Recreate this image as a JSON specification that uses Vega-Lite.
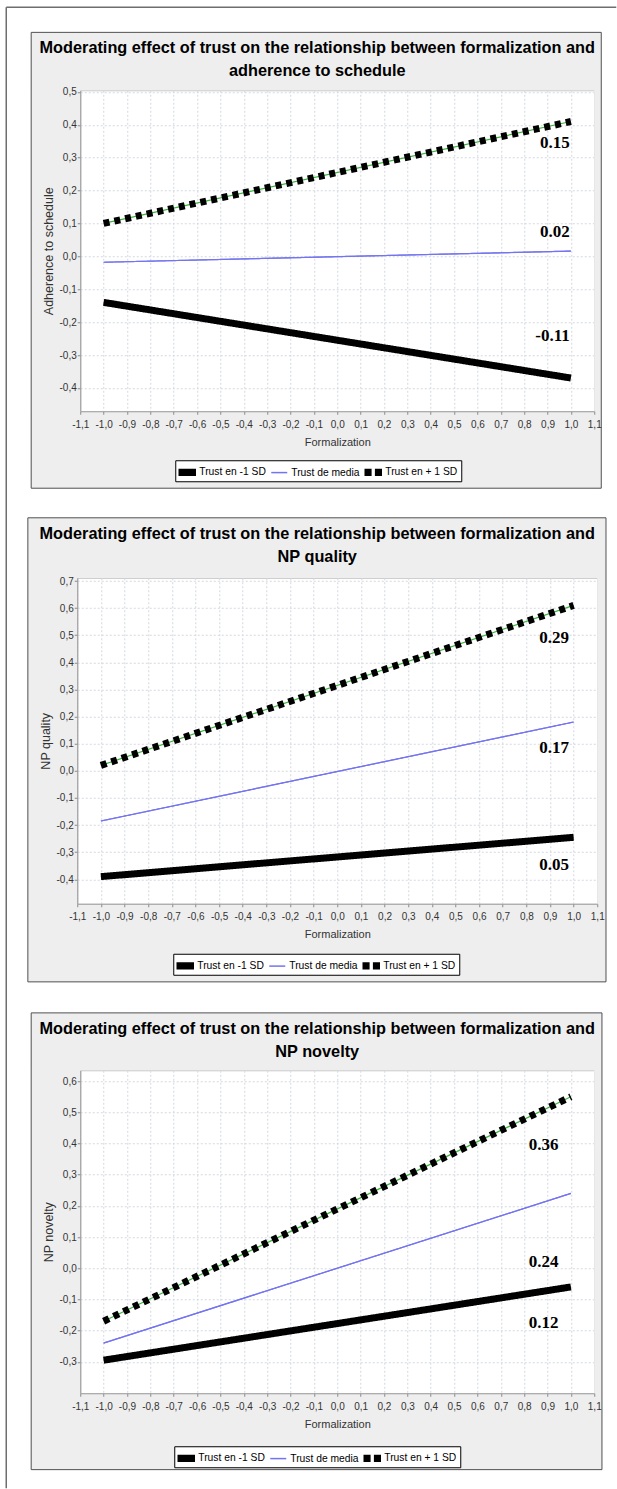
{
"$schema": "https://vega.github.io/schema/vega-lite/v6.json",
"background": "white",
"padding": {"left": 4.25, "top": 5.25, "right": 0, "bottom": 0},
"spacing": 166.5,
"center": true,
"bounds": "flush",
"datasets": {
"adh": [
{"formalization": -1, "value": -0.14, "series": "Trust en -1 SD"},
{"formalization": 1, "value": -0.37, "series": "Trust en -1 SD"},
{"formalization": -1, "value": -0.018, "series": "Trust de media"},
{"formalization": 1, "value": 0.016, "series": "Trust de media"},
{"formalization": -1, "value": 0.10, "series": "Trust en + 1 SD"},
{"formalization": 1, "value": 0.41, "series": "Trust en + 1 SD"}
],
"adhLab": [
{"formalization": 0.995, "value": 0.345, "label": "0.15"},
{"formalization": 0.995, "value": 0.073, "label": "0.02"},
{"formalization": 0.995, "value": -0.243, "label": "-0.11"}
],
"qual": [
{"formalization": -1, "value": -0.39, "series": "Trust en -1 SD"},
{"formalization": 1, "value": -0.245, "series": "Trust en -1 SD"},
{"formalization": -1, "value": -0.185, "series": "Trust de media"},
{"formalization": 1, "value": 0.18, "series": "Trust de media"},
{"formalization": -1, "value": 0.02, "series": "Trust en + 1 SD"},
{"formalization": 1, "value": 0.61, "series": "Trust en + 1 SD"}
],
"qualLab": [
{"formalization": 0.98, "value": 0.491, "label": "0.29"},
{"formalization": 0.98, "value": 0.085, "label": "0.17"},
{"formalization": 0.98, "value": -0.346, "label": "0.05"}
],
"nov": [
{"formalization": -1, "value": -0.295, "series": "Trust en -1 SD"},
{"formalization": 1, "value": -0.06, "series": "Trust en -1 SD"},
{"formalization": -1, "value": -0.24, "series": "Trust de media"},
{"formalization": 1, "value": 0.24, "series": "Trust de media"},
{"formalization": -1, "value": -0.17, "series": "Trust en + 1 SD"},
{"formalization": 1, "value": 0.55, "series": "Trust en + 1 SD"}
],
"novLab": [
{"formalization": 0.947, "value": 0.394, "label": "0.36"},
{"formalization": 0.947, "value": 0.019, "label": "0.24"},
{"formalization": 0.947, "value": -0.175, "label": "0.12"}
]
},
"vconcat": [
{
"width": 514, "height": 321,
"title": {"text": ["Moderating effect of trust on the relationship between formalization and", "adherence to schedule"], "offset": -72.75, "frame": "group", "dx": -20},
"resolve": {"axis": {"x": "independent", "y": "independent"}},
"layer": [
{"data": {"name": "adh"}, "mark": {"type": "line", "strokeWidth": 1.2},
"encoding": {
"x": {"field": "formalization", "type": "quantitative", "scale": {"domain": [-1.1, 1.1], "nice": false, "zero": false}, "axis": {"orient": "bottom", "grid": true, "labels": false, "ticks": false, "domain": false, "title": null, "zindex": 0, "values": [-1.1,-1,-0.9,-0.8,-0.7,-0.6,-0.5,-0.4,-0.3,-0.2,-0.1,0,0.1,0.2,0.3,0.4,0.5,0.6,0.7,0.8,0.9,1,1.1]}},
"y": {"field": "value", "type": "quantitative", "scale": {"domain": [-0.471, 0.505], "nice": false, "zero": false}, "axis": {"orient": "left", "grid": true, "labels": false, "ticks": false, "domain": false, "title": null, "zindex": 0, "values": [-0.4,-0.3,-0.2,-0.1,0,0.1,0.2,0.3,0.4,0.5]}},
"stroke": {"field": "series", "type": "nominal", "scale": {"domain": ["Trust de media", "Trust en -1 SD", "Trust en + 1 SD"], "range": ["#7474f0", "#ff4a4a", "#3cb43c"]}, "legend": null}
}},
{"data": {"name": "adh"}, "mark": {"type": "line"},
"encoding": {
"x": {"field": "formalization", "type": "quantitative", "axis": null},
"y": {"field": "value", "type": "quantitative", "axis": null},
"color": {"field": "series", "type": "nominal", "scale": {"domain": ["Trust en -1 SD", "Trust de media", "Trust en + 1 SD"], "range": ["#000000", "#7474f0", "#000000"]}, "legend": {"title": null, "orient": "none", "legendX": 95, "legendY": 370, "direction": "horizontal", "symbolType": {"expr": "datum.value === 'Trust de media' ? 'stroke' : datum.value === 'Trust en + 1 SD' ? 'M-1,-0.35H-0.3V0.35H-1Z M0.3,-0.35H1V0.35H0.3Z' : 'M-1,-0.35H1V0.35H-1Z'"}, "symbolFillColor": {"expr": "datum.value === 'Trust de media' ? 'transparent' : '#000000'"}}},
"strokeDash": {"condition": {"test": "datum.series === 'Trust en + 1 SD'", "value": [6, 5]}, "value": [1, 0]},
"strokeWidth": {"condition": {"test": "datum.series === 'Trust de media'", "value": 1.2}, "value": 7}
}},
{"data": {"values": [{}]}, "mark": {"type": "rect", "color": "#eeeeee"},
"encoding": {"x": {"datum": -1.31, "type": "quantitative", "axis": null, "scale": {"domain": [-1.1, 1.1], "nice": false, "zero": false}}, "x2": {"datum": 1.13}, "y": {"datum": 0.505, "type": "quantitative", "axis": null, "scale": {"domain": [-0.471, 0.505], "nice": false, "zero": false}}, "y2": {"datum": 0.681}}},
{"data": {"values": [{}]}, "mark": {"type": "rect", "color": "#eeeeee"},
"encoding": {"x": {"datum": -1.31, "type": "quantitative", "axis": null}, "x2": {"datum": 1.13}, "y": {"datum": -0.705, "type": "quantitative", "axis": null}, "y2": {"datum": -0.471}}},
{"data": {"values": [{}]}, "mark": {"type": "rect", "color": "#eeeeee"},
"encoding": {"x": {"datum": -1.31, "type": "quantitative", "axis": null}, "x2": {"datum": -1.1}, "y": {"datum": -0.705, "type": "quantitative", "axis": null}, "y2": {"datum": 0.681}}},
{"data": {"values": [{}]}, "mark": {"type": "rect", "color": "#eeeeee"},
"encoding": {"x": {"datum": 1.1, "type": "quantitative", "axis": null}, "x2": {"datum": 1.13}, "y": {"datum": -0.705, "type": "quantitative", "axis": null}, "y2": {"datum": 0.681}}},
{"data": {"values": [{}]}, "mark": {"type": "rect", "filled": false, "color": "#505050", "strokeWidth": 1},
"encoding": {"x": {"datum": -1.31, "type": "quantitative", "axis": null}, "x2": {"datum": 1.13}, "y": {"datum": -0.705, "type": "quantitative", "axis": null}, "y2": {"datum": 0.681}}},
{"data": {"values": [{}]}, "mark": {"type": "rule", "color": "#6e6e6e", "strokeWidth": 1.5},
"encoding": {"x": {"datum": -1.41673, "type": "quantitative", "axis": null}, "y": {"datum": 0.75736, "type": "quantitative", "axis": null}, "y2": {"datum": -3.7456}}},
{"data": {"values": [{}]}, "mark": {"type": "rule", "color": "#6e6e6e", "strokeWidth": 1.5},
"encoding": {"x": {"datum": -1.41673, "type": "quantitative", "axis": null}, "x2": {"datum": 1.1942}, "y": {"datum": 0.75736, "type": "quantitative", "axis": null}}},
{"data": {"name": "adhLab"}, "mark": {"type": "text", "font": "Liberation Serif", "fontWeight": "bold", "fontSize": 17, "color": "#000000", "align": "right", "baseline": "middle"},
"encoding": {
"x": {"field": "formalization", "type": "quantitative", "axis": {"orient": "bottom", "grid": false, "zindex": 1, "title": "Formalization", "values": [-1.1,-1,-0.9,-0.8,-0.7,-0.6,-0.5,-0.4,-0.3,-0.2,-0.1,0,0.1,0.2,0.3,0.4,0.5,0.6,0.7,0.8,0.9,1,1.1], "labelExpr": "replace(replace(format(datum.value, '.1f'), '.', ','), '\u2212', '-')", "labelFlush": false, "labelOverlap": false, "tickSize": 3, "labelPadding": 5, "titlePadding": 7}},
"y": {"field": "value", "type": "quantitative", "axis": {"orient": "left", "grid": false, "zindex": 1, "title": "Adherence to schedule", "values": [-0.4,-0.3,-0.2,-0.1,0,0.1,0.2,0.3,0.4,0.5], "labelExpr": "replace(replace(format(datum.value, '.1f'), '.', ','), '\u2212', '-')", "labelOverlap": false, "tickSize": 3, "labelPadding": 1, "titlePadding": 4, "titleFontSize": 12.5}},
"text": {"field": "label"}
}}
]
},
{
"width": 520, "height": 326,
"title": {"text": ["Moderating effect of trust on the relationship between formalization and", "NP quality"], "offset": -47.5, "frame": "group", "dx": -20},
"resolve": {"axis": {"x": "independent", "y": "independent"}},
"layer": [
{"data": {"name": "qual"}, "mark": {"type": "line", "strokeWidth": 1.2},
"encoding": {
"x": {"field": "formalization", "type": "quantitative", "scale": {"domain": [-1.1, 1.1], "nice": false, "zero": false}, "axis": {"orient": "bottom", "grid": true, "labels": false, "ticks": false, "domain": false, "title": null, "zindex": 0, "values": [-1.1,-1,-0.9,-0.8,-0.7,-0.6,-0.5,-0.4,-0.3,-0.2,-0.1,0,0.1,0.2,0.3,0.4,0.5,0.6,0.7,0.8,0.9,1,1.1]}},
"y": {"field": "value", "type": "quantitative", "scale": {"domain": [-0.49, 0.712], "nice": false, "zero": false}, "axis": {"orient": "left", "grid": true, "labels": false, "ticks": false, "domain": false, "title": null, "zindex": 0, "values": [-0.4,-0.3,-0.2,-0.1,0,0.1,0.2,0.3,0.4,0.5,0.6,0.7]}},
"stroke": {"field": "series", "type": "nominal", "scale": {"domain": ["Trust de media", "Trust en -1 SD", "Trust en + 1 SD"], "range": ["#7474f0", "#ff4a4a", "#3cb43c"]}, "legend": null}
}},
{"data": {"name": "qual"}, "mark": {"type": "line"},
"encoding": {
"x": {"field": "formalization", "type": "quantitative", "axis": null},
"y": {"field": "value", "type": "quantitative", "axis": null},
"color": {"field": "series", "type": "nominal", "scale": {"domain": ["Trust en -1 SD", "Trust de media", "Trust en + 1 SD"], "range": ["#000000", "#7474f0", "#000000"]}, "legend": {"title": null, "orient": "none", "legendX": 96, "legendY": 376, "direction": "horizontal", "symbolType": {"expr": "datum.value === 'Trust de media' ? 'stroke' : datum.value === 'Trust en + 1 SD' ? 'M-1,-0.35H-0.3V0.35H-1Z M0.3,-0.35H1V0.35H0.3Z' : 'M-1,-0.35H1V0.35H-1Z'"}, "symbolFillColor": {"expr": "datum.value === 'Trust de media' ? 'transparent' : '#000000'"}}},
"strokeDash": {"condition": {"test": "datum.series === 'Trust en + 1 SD'", "value": [6, 5]}, "value": [1, 0]},
"strokeWidth": {"condition": {"test": "datum.series === 'Trust de media'", "value": 1.2}, "value": 7}
}},
{"data": {"values": [{}]}, "mark": {"type": "rect", "color": "#eeeeee"},
"encoding": {"x": {"datum": -1.309, "type": "quantitative", "axis": null, "scale": {"domain": [-1.1, 1.1], "nice": false, "zero": false}}, "x2": {"datum": 1.137}, "y": {"datum": 0.712, "type": "quantitative", "axis": null, "scale": {"domain": [-0.49, 0.712], "nice": false, "zero": false}}, "y2": {"datum": 0.933}}},
{"data": {"values": [{}]}, "mark": {"type": "rect", "color": "#eeeeee"},
"encoding": {"x": {"datum": -1.309, "type": "quantitative", "axis": null}, "x2": {"datum": 1.137}, "y": {"datum": -0.778, "type": "quantitative", "axis": null}, "y2": {"datum": -0.49}}},
{"data": {"values": [{}]}, "mark": {"type": "rect", "color": "#eeeeee"},
"encoding": {"x": {"datum": -1.309, "type": "quantitative", "axis": null}, "x2": {"datum": -1.1}, "y": {"datum": -0.778, "type": "quantitative", "axis": null}, "y2": {"datum": 0.933}}},
{"data": {"values": [{}]}, "mark": {"type": "rect", "color": "#eeeeee"},
"encoding": {"x": {"datum": 1.1, "type": "quantitative", "axis": null}, "x2": {"datum": 1.137}, "y": {"datum": -0.778, "type": "quantitative", "axis": null}, "y2": {"datum": 0.933}}},
{"data": {"values": [{}]}, "mark": {"type": "rect", "filled": false, "color": "#505050", "strokeWidth": 1},
"encoding": {"x": {"datum": -1.309, "type": "quantitative", "axis": null}, "x2": {"datum": 1.137}, "y": {"datum": -0.778, "type": "quantitative", "axis": null}, "y2": {"datum": 0.933}}},
{"data": {"name": "qualLab"}, "mark": {"type": "text", "font": "Liberation Serif", "fontWeight": "bold", "fontSize": 17, "color": "#000000", "align": "right", "baseline": "middle"},
"encoding": {
"x": {"field": "formalization", "type": "quantitative", "axis": {"orient": "bottom", "grid": false, "zindex": 1, "title": "Formalization", "values": [-1.1,-1,-0.9,-0.8,-0.7,-0.6,-0.5,-0.4,-0.3,-0.2,-0.1,0,0.1,0.2,0.3,0.4,0.5,0.6,0.7,0.8,0.9,1,1.1], "labelExpr": "replace(replace(format(datum.value, '.1f'), '.', ','), '\u2212', '-')", "labelFlush": false, "labelOverlap": false, "tickSize": 3, "labelPadding": 5, "titlePadding": 7}},
"y": {"field": "value", "type": "quantitative", "axis": {"orient": "left", "grid": false, "zindex": 1, "title": "NP quality", "values": [-0.4,-0.3,-0.2,-0.1,0,0.1,0.2,0.3,0.4,0.5,0.6,0.7], "labelExpr": "replace(replace(format(datum.value, '.1f'), '.', ','), '\u2212', '-')", "labelOverlap": false, "tickSize": 3, "labelPadding": 1, "titlePadding": 4, "titleFontSize": 12.5}},
"text": {"field": "label"}
}}
]
},
{
"width": 514, "height": 323,
"title": {"text": ["Moderating effect of trust on the relationship between formalization and", "NP novelty"], "offset": -47.5, "frame": "group", "dx": -20},
"resolve": {"axis": {"x": "independent", "y": "independent"}},
"layer": [
{"data": {"name": "nov"}, "mark": {"type": "line", "strokeWidth": 1.2},
"encoding": {
"x": {"field": "formalization", "type": "quantitative", "scale": {"domain": [-1.1, 1.1], "nice": false, "zero": false}, "axis": {"orient": "bottom", "grid": true, "labels": false, "ticks": false, "domain": false, "title": null, "zindex": 0, "values": [-1.1,-1,-0.9,-0.8,-0.7,-0.6,-0.5,-0.4,-0.3,-0.2,-0.1,0,0.1,0.2,0.3,0.4,0.5,0.6,0.7,0.8,0.9,1,1.1]}},
"y": {"field": "value", "type": "quantitative", "scale": {"domain": [-0.401, 0.635], "nice": false, "zero": false}, "axis": {"orient": "left", "grid": true, "labels": false, "ticks": false, "domain": false, "title": null, "zindex": 0, "values": [-0.3,-0.2,-0.1,0,0.1,0.2,0.3,0.4,0.5,0.6]}},
"stroke": {"field": "series", "type": "nominal", "scale": {"domain": ["Trust de media", "Trust en -1 SD", "Trust en + 1 SD"], "range": ["#7474f0", "#ff4a4a", "#3cb43c"]}, "legend": null}
}},
{"data": {"name": "nov"}, "mark": {"type": "line"},
"encoding": {
"x": {"field": "formalization", "type": "quantitative", "axis": null},
"y": {"field": "value", "type": "quantitative", "axis": null},
"color": {"field": "series", "type": "nominal", "scale": {"domain": ["Trust en -1 SD", "Trust de media", "Trust en + 1 SD"], "range": ["#000000", "#7474f0", "#000000"]}, "legend": {"title": null, "orient": "none", "legendX": 94, "legendY": 376, "direction": "horizontal", "symbolType": {"expr": "datum.value === 'Trust de media' ? 'stroke' : datum.value === 'Trust en + 1 SD' ? 'M-1,-0.35H-0.3V0.35H-1Z M0.3,-0.35H1V0.35H0.3Z' : 'M-1,-0.35H1V0.35H-1Z'"}, "symbolFillColor": {"expr": "datum.value === 'Trust de media' ? 'transparent' : '#000000'"}}},
"strokeDash": {"condition": {"test": "datum.series === 'Trust en + 1 SD'", "value": [6, 5]}, "value": [1, 0]},
"strokeWidth": {"condition": {"test": "datum.series === 'Trust de media'", "value": 1.2}, "value": 7}
}},
{"data": {"values": [{}]}, "mark": {"type": "rect", "color": "#eeeeee"},
"encoding": {"x": {"datum": -1.31, "type": "quantitative", "axis": null, "scale": {"domain": [-1.1, 1.1], "nice": false, "zero": false}}, "x2": {"datum": 1.133}, "y": {"datum": 0.635, "type": "quantitative", "axis": null, "scale": {"domain": [-0.401, 0.635], "nice": false, "zero": false}}, "y2": {"datum": 0.819}}},
{"data": {"values": [{}]}, "mark": {"type": "rect", "color": "#eeeeee"},
"encoding": {"x": {"datum": -1.31, "type": "quantitative", "axis": null}, "x2": {"datum": 1.133}, "y": {"datum": -0.646, "type": "quantitative", "axis": null}, "y2": {"datum": -0.401}}},
{"data": {"values": [{}]}, "mark": {"type": "rect", "color": "#eeeeee"},
"encoding": {"x": {"datum": -1.31, "type": "quantitative", "axis": null}, "x2": {"datum": -1.1}, "y": {"datum": -0.646, "type": "quantitative", "axis": null}, "y2": {"datum": 0.819}}},
{"data": {"values": [{}]}, "mark": {"type": "rect", "color": "#eeeeee"},
"encoding": {"x": {"datum": 1.1, "type": "quantitative", "axis": null}, "x2": {"datum": 1.133}, "y": {"datum": -0.646, "type": "quantitative", "axis": null}, "y2": {"datum": 0.819}}},
{"data": {"values": [{}]}, "mark": {"type": "rect", "filled": false, "color": "#505050", "strokeWidth": 1},
"encoding": {"x": {"datum": -1.31, "type": "quantitative", "axis": null}, "x2": {"datum": 1.133}, "y": {"datum": -0.646, "type": "quantitative", "axis": null}, "y2": {"datum": 0.819}}},
{"data": {"name": "novLab"}, "mark": {"type": "text", "font": "Liberation Serif", "fontWeight": "bold", "fontSize": 17, "color": "#000000", "align": "right", "baseline": "middle"},
"encoding": {
"x": {"field": "formalization", "type": "quantitative", "axis": {"orient": "bottom", "grid": false, "zindex": 1, "title": "Formalization", "values": [-1.1,-1,-0.9,-0.8,-0.7,-0.6,-0.5,-0.4,-0.3,-0.2,-0.1,0,0.1,0.2,0.3,0.4,0.5,0.6,0.7,0.8,0.9,1,1.1], "labelExpr": "replace(replace(format(datum.value, '.1f'), '.', ','), '\u2212', '-')", "labelFlush": false, "labelOverlap": false, "tickSize": 3, "labelPadding": 5, "titlePadding": 7}},
"y": {"field": "value", "type": "quantitative", "axis": {"orient": "left", "grid": false, "zindex": 1, "title": "NP novelty", "values": [-0.3,-0.2,-0.1,0,0.1,0.2,0.3,0.4,0.5,0.6], "labelExpr": "replace(replace(format(datum.value, '.1f'), '.', ','), '\u2212', '-')", "labelOverlap": false, "tickSize": 3, "labelPadding": 1, "titlePadding": 4, "titleFontSize": 12.5}},
"text": {"field": "label"}
}}
]
}
],
"resolve": {"scale": {"color": "independent", "stroke": "independent"}},
"config": {
"view": {"stroke": "#bfbfbf", "fill": "white", "strokeWidth": 1},
"font": "Liberation Sans, Arial, sans-serif",
"axis": {"labelFont": "Liberation Sans, Arial, sans-serif", "labelFontSize": 10, "labelColor": "#333333", "titleFont": "Liberation Sans, Arial, sans-serif", "titleFontSize": 11, "titleFontWeight": "normal", "titleColor": "#333333", "domainColor": "#9a9a9a", "tickColor": "#8a8a8a", "gridColor": "#d3d8e0", "gridDash": [2, 2], "gridWidth": 1},
"title": {"font": "Liberation Sans, Arial, sans-serif", "fontSize": 16.3, "fontWeight": "bold", "color": "#000000", "lineHeight": 23},
"legend": {"fillColor": "white", "strokeColor": "#000000", "padding": 3, "symbolSize": 256, "symbolStrokeWidth": 1.5, "labelFont": "Liberation Sans, Arial, sans-serif", "labelFontSize": 10.3, "labelColor": "#000000", "labelOffset": 3, "columnPadding": 2}
}
}
